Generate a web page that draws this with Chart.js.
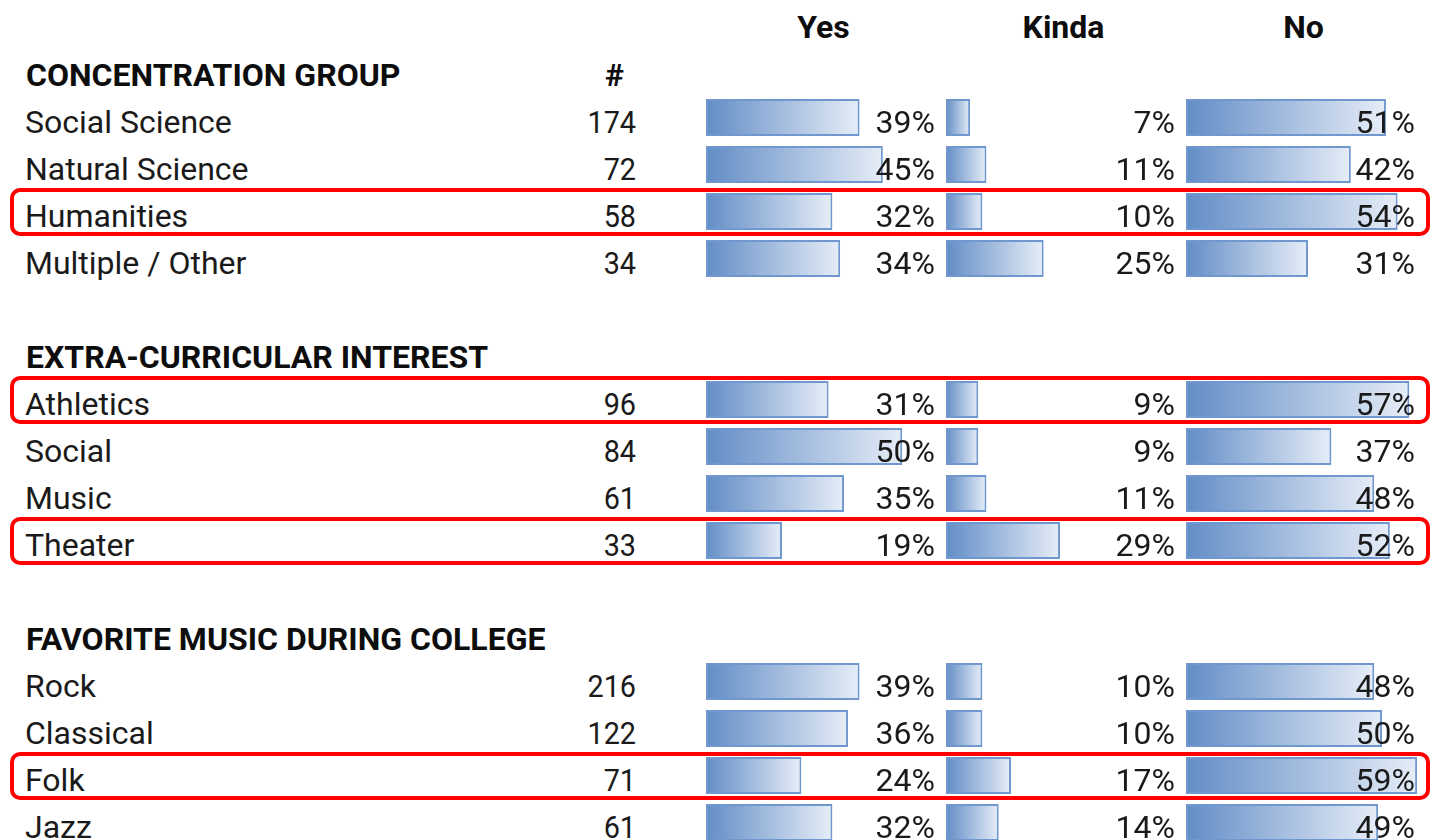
<!DOCTYPE html>
<html>
<head>
<meta charset="utf-8">
<script src="https://cdn.jsdelivr.net/npm/chart.js@4/dist/chart.umd.min.js"></script>
<style>
  html, body { margin: 0; padding: 0; background: #fff; }
  body { width: 1432px; height: 840px; overflow: hidden; position: relative; font-family: Roboto, sans-serif; }
  .row { position: absolute; left: 0; width: 1432px; height: 47px; line-height: 47px; font-size: 32px; color: #1a1a1a; white-space: nowrap; }
  .row span { position: absolute; top: 0; }
  .head { font-weight: bold; color: #0d0d0d; }
  .num { text-align: right; width: 120px; left: 516px; transform: scaleX(0.9); transform-origin: right center; }
  .col { text-align: center; width: 235px; }
  canvas { position: absolute; top: 0; }
  .mark { position: absolute; left: 10px; width: 1420px; height: 48px; box-sizing: border-box; border: 4.5px solid #f00; border-radius: 10px; }
</style>
</head>
<body>
<div id="rows"></div>
<canvas id="yesChart" width="235" height="846" style="left:706px"></canvas>
<canvas id="kindaChart" width="235" height="846" style="left:946px"></canvas>
<canvas id="noChart" width="235" height="846" style="left:1186px"></canvas>
<div id="marks"></div>
<script>
const columns = ['Yes', 'Kinda', 'No'];
const groups = ['CONCENTRATION GROUP', 'EXTRA-CURRICULAR INTEREST', 'FAVORITE MUSIC DURING COLLEGE'];
const groupSizes = [4, 4, 4];
const categories = ['Social Science', 'Natural Science', 'Humanities', 'Multiple / Other',
    'Athletics', 'Social', 'Music', 'Theater',
    'Rock', 'Classical', 'Folk', 'Jazz'];
const counts = [174, 72, 58, 34, 96, 84, 61, 33, 216, 122, 71, 61];
const yesPct = [39, 45, 32, 34, 31, 50, 35, 19, 39, 36, 24, 32];
const kindaPct = [7, 11, 10, 25, 9, 9, 11, 29, 10, 10, 17, 14];
const noPct = [51, 42, 54, 31, 57, 37, 48, 52, 48, 50, 59, 49];
const highlighted = ['Humanities', 'Athletics', 'Theater', 'Folk'];

const ROW_H = 47;

// layout rows: column header, then each group header + items, blank row between groups
const rows = [{ type: 'columns' }];
let k = 0;
groups.forEach((g, gi) => {
    if (gi > 0) rows.push({ type: 'blank' });
    rows.push({ type: 'group', text: g, hash: gi === 0 });
    for (let j = 0; j < groupSizes[gi]; j++) {
        rows.push({ type: 'item', idx: k++ });
    }
});

function renderRows() {
    const box = document.getElementById('rows');
    const marks = document.getElementById('marks');
    let html = '';
    let markHtml = '';
    rows.forEach((r, i) => {
        const top = 4.6 + i * ROW_H;
        if (r.type === 'columns') {
            html += `<div class="row head" style="top:${top - 1}px">` +
                columns.map((c, ci) => `<span class="col" style="left:${706 + ci * 240}px">${c}</span>`).join('') +
                '</div>';
        } else if (r.type === 'group') {
            html += `<div class="row head" style="top:${top}px"><span style="left:26px">${r.text}</span>` +
                (r.hash ? '<span style="left:605px">#</span>' : '') + '</div>';
        } else if (r.type === 'item') {
            const name = categories[r.idx];
            html += `<div class="row" style="top:${top}px"><span style="left:25px">${name}</span>` +
                `<span class="num">${counts[r.idx]}</span></div>`;
            if (highlighted.includes(name)) {
                const c = i * ROW_H + ROW_H / 2;
                markHtml += `<div class="mark" style="top:${c - 24}px"></div>`;
            }
        }
    });
    box.innerHTML = html;
    marks.innerHTML = markHtml;
}

function columnData(values) {
    return rows.map(r => r.type === 'item' ? values[r.idx] : null);
}

const pctLabels = {
    id: 'pctLabels',
    afterDatasetsDraw(chart) {
        const ctx = chart.ctx;
        const area = chart.chartArea;
        const data = chart.data.datasets[0].data;
        ctx.save();
        ctx.font = '32px Roboto, sans-serif';
        ctx.fillStyle = '#1a1a1a';
        ctx.textAlign = 'right';
        ctx.textBaseline = 'alphabetic';
        chart.getDatasetMeta(0).data.forEach((bar, i) => {
            if (data[i] == null) return;
            ctx.fillText(data[i] + '%', area.left + 229, bar.y + 15);
        });
        ctx.restore();
    }
};

function renderColumn(id, values, min, max) {
    const ctx = document.getElementById(id).getContext('2d');
    new Chart(ctx, {
        type: 'bar',
        data: {
            labels: rows.map((r, i) => 'r' + i),
            datasets: [{
                data: columnData(values),
                base: min,
                barPercentage: 37 / 47,
                categoryPercentage: 1,
                borderWidth: 2,
                borderSkipped: false,
                borderColor: '#7098CF',
                backgroundColor: (c) => {
                    const chart = c.chart;
                    const xs = chart.scales.x;
                    if (!chart.chartArea || !xs || c.raw == null) return '#8fb0dc';
                    const x0 = xs.getPixelForValue(min);
                    const x1 = xs.getPixelForValue(c.raw);
                    const g = chart.ctx.createLinearGradient(x0, 0, x1, 0);
                    g.addColorStop(0, '#628DC6');
                    g.addColorStop(1, '#E6EDF7');
                    return g;
                }
            }]
        },
        options: {
            indexAxis: 'y',
            responsive: false,
            animation: false,
            layout: { padding: 0 },
            plugins: {
                legend: { display: false },
                tooltip: { enabled: false }
            },
            scales: {
                x: { display: false, min: min, max: max },
                y: { display: false }
            }
        },
        plugins: [pctLabels]
    });
}

renderRows();
renderColumn('yesChart', yesPct, -0.6, 60);
renderColumn('kindaChart', kindaPct, 1.1, 58.6);
renderColumn('noChart', noPct, -0.3, 60);
</script>
</body>
</html>
